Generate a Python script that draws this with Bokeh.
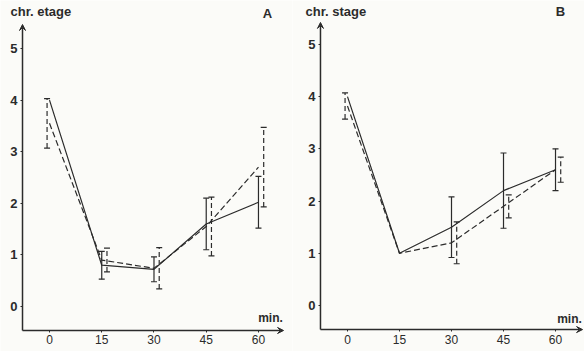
from bokeh.plotting import figure
from bokeh.layouts import row
from bokeh.models import (Whisker, ColumnDataSource, Arrow, VeeHead, Label,
                          TeeHead, FixedTicker, Range1d)
from bokeh.embed import file_html
from bokeh.resources import INLINE

minutes = [0, 15, 30, 45, 60]
y_ticks = [0, 1, 2, 3, 4, 5]

a_solid = [4.0, 0.8, 0.72, 1.6, 2.02]
a_solid_err = [0, 0.27, 0.24, 0.5, 0.5]
a_dashed = [3.55, 0.9, 0.74, 1.55, 2.7]
a_dashed_err = [0.48, 0.23, 0.4, 0.57, 0.77]

b_solid = [4.0, 1.0, 1.5, 2.2, 2.6]
b_solid_err = [0, 0, 0.58, 0.72, 0.4]
b_dashed = [3.82, 1.0, 1.2, 1.9, 2.6]
b_dashed_err = [0.25, 0, 0.4, 0.22, 0.24]

INK = "#2b2b2b"
BG = "#fbfbf8"
FONT = "Liberation Sans"


def whisker(p, xs, ys, errs, shift0, shift, dash):
    x, lo, up = [], [], []
    for t, v, e in zip(xs, ys, errs):
        if e > 0:
            x.append(t + (shift0 if t == 0 else shift))
            lo.append(v - e)
            up.append(v + e)
    src = ColumnDataSource(dict(x=x, lower=lo, upper=up))
    w = Whisker(source=src, base="x", lower="lower", upper="upper",
                line_color=INK, line_width=1.2, line_dash=dash,
                upper_head=TeeHead(size=6, line_color=INK, line_width=1.2),
                lower_head=TeeHead(size=6, line_color=INK, line_width=1.2))
    p.add_layout(w)


def panel(xr, yr, axis_at, solid, solid_err, dashed, dashed_err, ylab, letter, lab_pos):
    x0, y0, xend, yend = axis_at
    p = figure(width=292, height=351, output_backend="svg", toolbar_location=None,
               x_range=Range1d(*xr), y_range=Range1d(*yr),
               min_border_left=0, min_border_right=0,
               min_border_top=0, min_border_bottom=0)
    p.background_fill_color = BG
    p.border_fill_color = BG
    p.outline_line_color = None
    p.xgrid.visible = False
    p.ygrid.visible = False
    p.xaxis.fixed_location = y0
    p.yaxis.fixed_location = x0
    for ax in (p.xaxis[0], p.yaxis[0]):
        ax.axis_line_color = None
        ax.major_tick_in = 0
        ax.major_tick_out = 2
        ax.major_tick_line_color = INK
        ax.minor_tick_line_color = None
        ax.major_label_text_color = INK
        ax.major_label_text_font = FONT
    p.xaxis.ticker = FixedTicker(ticks=minutes)
    p.yaxis.ticker = FixedTicker(ticks=y_ticks)
    p.xaxis.major_label_text_font_size = "12px"
    p.yaxis.major_label_text_font_size = "13px"
    p.yaxis.major_label_text_font_style = "bold"
    p.xaxis.major_label_standoff = 3
    p.yaxis.major_label_standoff = 3

    # axes with arrow heads
    p.add_layout(Arrow(x_start=x0, y_start=y0, x_end=x0, y_end=yend,
                       line_color=INK, line_width=1.5,
                       end=VeeHead(size=6, line_color=INK, fill_color=INK, line_width=1)))
    p.add_layout(Arrow(x_start=x0, y_start=y0, x_end=xend, y_end=y0,
                       line_color=INK, line_width=1.5,
                       end=VeeHead(size=6, line_color=INK, fill_color=INK, line_width=1)))

    p.line(minutes, solid, line_color=INK, line_width=1.2)
    p.line(minutes, dashed, line_color=INK, line_width=1.2, line_dash="6 3")
    whisker(p, minutes, solid, solid_err, 0, 0, "solid")
    whisker(p, minutes, dashed, dashed_err, -0.7, 1.5, "5 3")

    (tx, ty), (lx, ly), (mx, my) = lab_pos
    p.add_layout(Label(x=tx, y=ty, text=ylab, text_font=FONT, text_font_size="13px",
                       text_font_style="bold", text_color=INK, text_baseline="middle",
                       text_align="left"))
    p.add_layout(Label(x=lx, y=ly, text=letter, text_font=FONT, text_font_size="13px",
                       text_font_style="bold", text_color=INK, text_baseline="middle",
                       text_align="center"))
    p.add_layout(Label(x=mx, y=my, text="min.", text_font=FONT, text_font_size="12px",
                       text_font_style="bold", text_color=INK, text_baseline="middle",
                       text_align="right"))
    return p


pa = panel((-14.07, 69.77), (-0.872, 5.93), (-7.75, -0.465, 67.2, 5.465),
           a_solid, a_solid_err, a_dashed, a_dashed_err, "chr. etage", "A",
           ((-11.2, 5.72), (62.6, 5.68), (67.0, -0.23)))
pb = panel((-15.86, 68.36), (-0.88, 5.84), (-7.79, -0.46, 67.8, 5.42),
           b_solid, b_solid_err, b_dashed, b_dashed_err, "chr. stage", "B",
           ((-12.1, 5.63), (61.4, 5.63), (67.6, -0.25)))

layout = row(pa, pb)
layout.spacing = 0
open("out.html", "w").write(file_html(layout, INLINE))
